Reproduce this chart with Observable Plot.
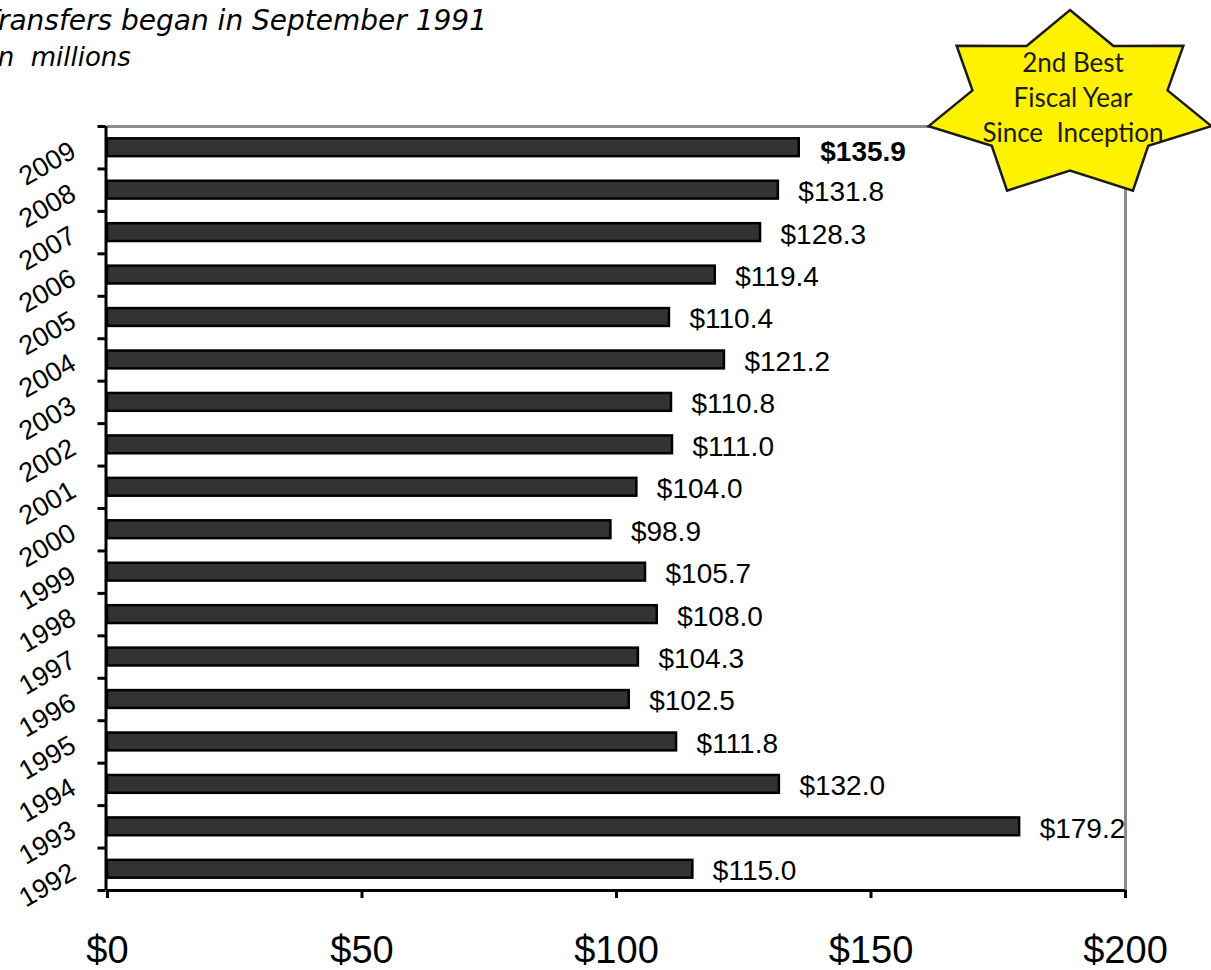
<!DOCTYPE html>
<html>
<head>
<meta charset="utf-8">
<script src="https://cdn.jsdelivr.net/npm/d3@7"></script>
<script src="https://cdn.jsdelivr.net/npm/@observablehq/plot@0.6"></script>
<style>
  html, body { margin: 0; padding: 0; background: #fff; overflow: hidden; }
  #wrap { position: relative; width: 1211px; height: 970px; overflow: hidden; }
  #title { position: absolute; left: 0; top: 0; width: 900px; height: 90px;
           font-family: "DejaVu Sans", sans-serif; font-style: italic; font-size: 28px; color: #000; }
  #title div { position: absolute; white-space: pre; line-height: 1; }
  #chart { position: absolute; left: 0; top: 90px; }
  #star { position: absolute; left: 0; top: 0; }
</style>
</head>
<body>
<div id="wrap">
  <div id="title">
    <div style="left:-17px; top:7px;">Transfers began in September 1991</div>
    <div style="left:-10px; top:44px; font-size:26px;">In  millions</div>
  </div>
  <div id="chart"></div>
  <svg id="star" width="1211" height="210"></svg>
</div>
<script>
const years = [1992, 1993, 1994, 1995, 1996, 1997, 1998, 1999, 2000, 2001, 2002, 2003, 2004, 2005, 2006, 2007, 2008, 2009];
const values = [115.0, 179.2, 132.0, 111.8, 102.5, 104.3, 108.0, 105.7, 98.9, 104.0, 111.0, 110.8, 121.2, 110.4, 119.4, 128.3, 131.8, 135.9];
const xTicks = [0, 50, 100, 150, 200];
const starLines = ["2nd Best", "Fiscal Year", "Since  Inception"];

const data = years.map((y, i) => ({year: y, value: values[i]}));
const lastYear = years[years.length - 1];
const boundaries = d3.range(years[0] - 0.5, lastYear + 1, 1);
const half = 0.21;
const fmt = d => "$" + d.value.toFixed(1);

const chart = Plot.plot({
  width: 1211,
  height: 880,
  marginLeft: 107,
  marginRight: 86,
  marginTop: 36,
  marginBottom: 80,
  style: {fontFamily: "'Liberation Sans', Arial, sans-serif", background: "transparent", color: "#000"},
  x: {domain: [0, 200], label: null},
  y: {domain: [years[0] - 0.5, lastYear + 0.5], label: null},
  marks: [
    Plot.rectX(data, {x1: 0, x2: "value", y1: d => d.year - half, y2: d => d.year + half,
      fill: "#333333", stroke: "#000", strokeWidth: 2.5}),
    Plot.ruleY([lastYear + 0.5], {stroke: "#8c8c8c", strokeWidth: 3}),
    Plot.ruleX([200], {stroke: "#8c8c8c", strokeWidth: 3}),
    Plot.ruleX([0], {stroke: "#000", strokeWidth: 3, dx: -1.5}),
    Plot.ruleY([years[0] - 0.5], {stroke: "#000", strokeWidth: 3}),
    Plot.axisX({ticks: xTicks, tickFormat: d => "$" + d, tickSize: 8, strokeWidth: 3,
      tickPadding: 38, fontSize: 38, label: null}),
    Plot.axisY({ticks: boundaries, tickFormat: () => "", tickSize: 8, strokeWidth: 3, dx: -1.5, label: null}),
    Plot.text(data, {x: 0, y: "year", text: d => String(d.year), dx: -34, dy: 1, rotate: -30,
      textAnchor: "end", fontSize: 27}),
    Plot.text(data.filter(d => d.year !== lastYear), {x: "value", y: "year", text: fmt, dx: 20, dy: 2,
      textAnchor: "start", fontSize: 28}),
    Plot.text(data.filter(d => d.year === lastYear), {x: "value", y: "year", text: fmt, dx: 21, dy: 4,
      textAnchor: "start", fontSize: 28, fontWeight: "bold"})
  ]
});
document.getElementById("chart").appendChild(chart);

// Star annotation
const star = d3.select("#star");
const cx = 1070, cy = 105, rx = 145, ry = 95, inner = 0.69, n = 7;
const pts = [];
for (let i = 0; i < 2 * n; i++) {
  const a = -Math.PI / 2 + i * Math.PI / n;
  const k = i % 2 === 0 ? 1 : inner;
  pts.push([cx + rx * k * Math.cos(a), cy + ry * k * Math.sin(a)]);
}
star.append("polygon").attr("points", pts.map(p => p.join(",")).join(" "))
  .attr("fill", "#fff200").attr("stroke", "#1a1a1a").attr("stroke-width", 2.5).attr("stroke-linejoin", "miter");
star.selectAll("text.s").data(starLines).join("text")
  .attr("x", 1073).attr("y", (d, i) => 72 + i * 35)
  .attr("text-anchor", "middle")
  .style("font-family", "Lato, sans-serif").style("font-size", "26px").style("fill", "#1a1a1a")
  .style("white-space", "pre")
  .text(d => d);
</script>
</body>
</html>
